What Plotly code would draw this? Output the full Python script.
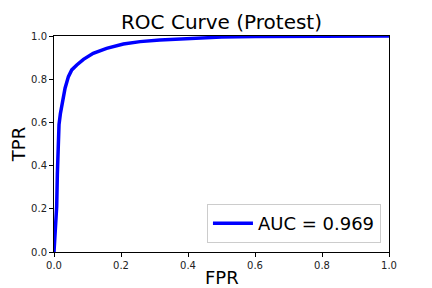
import plotly.graph_objects as go

fpr = [0.0, 0.004, 0.008, 0.010, 0.013, 0.015, 0.019, 0.023, 0.028, 0.033, 0.043, 0.053,
       0.068, 0.088, 0.117, 0.157, 0.207, 0.257, 0.316, 0.40, 0.50, 0.60, 0.80, 1.0]
tpr = [0.0, 0.10, 0.21, 0.36, 0.52, 0.59, 0.64, 0.68, 0.72, 0.758, 0.812, 0.843,
       0.866, 0.892, 0.920, 0.943, 0.963, 0.974, 0.981, 0.989, 0.995, 0.998, 1.0, 1.0]
auc_label = "AUC = 0.969"
ticks = [0.0, 0.2, 0.4, 0.6, 0.8, 1.0]
tick_text = ["0.0", "0.2", "0.4", "0.6", "0.8", "1.0"]

fig = go.Figure()
fig.add_trace(go.Scatter(x=fpr, y=tpr, mode="lines", name=auc_label,
                         line=dict(color="#0000ff", width=3.5), showlegend=True))

axis_common = dict(range=[0, 1], tickvals=ticks, ticktext=tick_text,
                   ticks="outside", ticklen=4, tickwidth=1, tickcolor="black",
                   showline=True, linecolor="black", linewidth=1, mirror=True,
                   showgrid=False, zeroline=False, automargin=False,
                   tickfont=dict(family="DejaVu Sans", size=10, color="#222"))

# page body has an 8px margin, so the figure is shrunk/shifted to compensate
fig.update_layout(
    width=424, height=280,
    margin=dict(l=46, r=43, t=28, b=36, autoexpand=False),
    paper_bgcolor="white", plot_bgcolor="white",
    title=dict(text="ROC Curve (Protest)", x=(46 + 335 / 2) / 424, xanchor="center",
               y=1 - 14 / 280, yref="container", yanchor="middle",
               font=dict(family="DejaVu Sans", size=20, color="black")),
    xaxis=dict(**axis_common),
    yaxis=dict(**axis_common, title=dict(text="TPR", standoff=3,
               font=dict(family="DejaVu Sans", size=18, color="black"))),
    legend=dict(x=0.976, y=0.042, xanchor="right", yanchor="bottom",
                itemwidth=40,
                bgcolor="rgba(255,255,255,0.8)", bordercolor="#cccccc", borderwidth=1,
                font=dict(family="DejaVu Sans", size=18, color="black")),
)
fig.add_annotation(text="FPR", xref="paper", yref="paper", x=0.5, y=-25 / 216,
                   xanchor="center", yanchor="middle", showarrow=False,
                   font=dict(family="DejaVu Sans", size=18, color="black"))

fig.write_html("out.html")
